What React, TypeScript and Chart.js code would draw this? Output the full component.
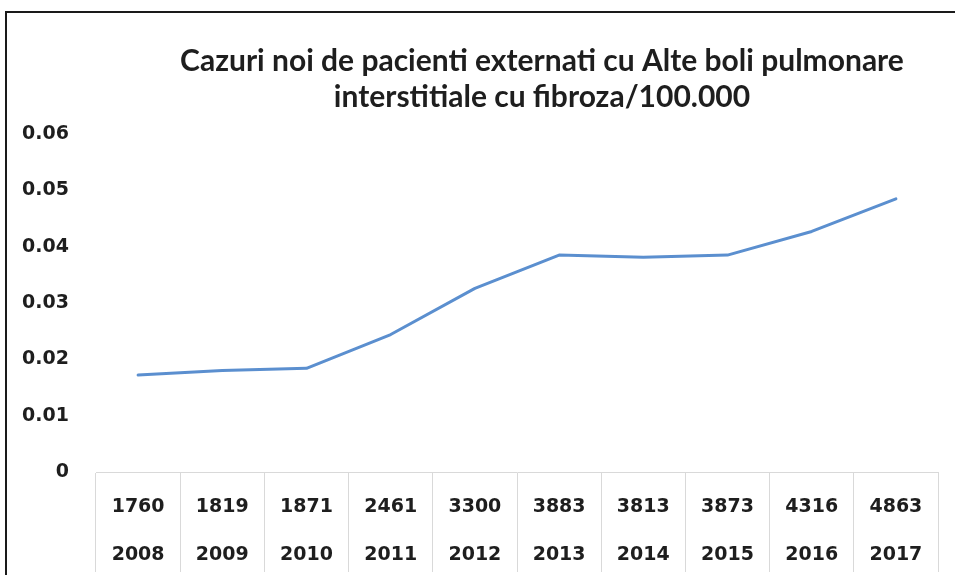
import React, { useEffect, useRef } from "react";
import { Chart, registerables } from "chart.js";

Chart.register(...registerables);

const titleLines = [
  "Cazuri noi de pacienti externati cu Alte boli pulmonare",
  "interstitiale cu fibroza/100.000",
];
const years = ["2008", "2009", "2010", "2011", "2012", "2013", "2014", "2015", "2016", "2017"];
const cases = ["1760", "1819", "1871", "2461", "3300", "3883", "3813", "3873", "4316", "4863"];
const rates = [0.0172, 0.018, 0.0184, 0.0244, 0.0326, 0.0385, 0.0381, 0.0385, 0.0427, 0.0485];
const yMin = 0;
const yMax = 0.06;
const yStep = 0.01;

const tickFont = { family: "'DejaVu Sans', sans-serif", weight: "bold" as const, size: 19 };

const titlePlugin = {
  id: "customTitle",
  afterDraw(chart: any) {
    const ctx = chart.ctx;
    ctx.save();
    ctx.font = "bold 30px Lato, 'Open Sans', sans-serif";
    ctx.fillStyle = "#1e1e1e";
    ctx.textAlign = "center";
    ctx.textBaseline = "middle";
    ctx.fillText(titleLines[0], 542, 61);
    ctx.fillText(titleLines[1], 542, 97);
    ctx.restore();
  },
};

export default function App() {
  const ref = useRef<HTMLCanvasElement | null>(null);

  useEffect(() => {
    if (!ref.current) return;
    const chart = new Chart(ref.current, {
      type: "line",
      data: {
        labels: years.map((y, i) => [cases[i], y]),
        datasets: [
          {
            data: rates,
            borderColor: "#5b8fcf",
            borderWidth: 3,
            pointRadius: 0,
            tension: 0,
            fill: false,
            borderJoinStyle: "round",
            borderCapStyle: "round",
          },
        ],
      },
      options: {
        responsive: false,
        animation: false,
        layout: { padding: { top: 134, right: 17, left: 0, bottom: 0 } },
        plugins: {
          legend: { display: false },
          tooltip: { enabled: false },
          title: { display: false },
        },
        scales: {
          x: {
            offset: true,
            grid: {
              display: true,
              drawOnChartArea: false,
              drawTicks: true,
              tickLength: 100,
              color: "#d9d9d9",
              lineWidth: 1,
              offset: true,
            },
            border: { display: true, color: "#d9d9d9", width: 1 },
            ticks: {
              padding: -89,
              autoSkip: false,
              maxRotation: 0,
              color: "#1e1e1e",
              font: { ...tickFont, lineHeight: 48 / 19 },
            },
            afterFit: (s: any) => {
              s.height = 103;
            },
          },
          y: {
            min: yMin,
            max: yMax,
            grid: { display: false, drawTicks: false },
            border: { display: false },
            ticks: {
              stepSize: yStep,
              padding: 27,
              color: "#1e1e1e",
              font: tickFont,
              callback: (v: any) => (Number(v) === 0 ? "0" : Number(v).toFixed(2)),
            },
            afterFit: (s: any) => {
              s.width = 96;
            },
          },
        },
      },
      plugins: [titlePlugin],
    });
    return () => chart.destroy();
  }, []);

  return (
    <div style={{ position: "absolute", left: 0, top: 0, width: 955, height: 575, background: "#fff", overflow: "hidden" }}>
      <div
        style={{
          position: "absolute",
          left: 5,
          top: 11,
          right: 0,
          bottom: 0,
          borderLeft: "2px solid #1a1a1a",
          borderTop: "2px solid #1a1a1a",
        }}
      />
      <canvas ref={ref} width={955} height={575} style={{ position: "absolute", left: 0, top: 0 }} />
    </div>
  );
}
